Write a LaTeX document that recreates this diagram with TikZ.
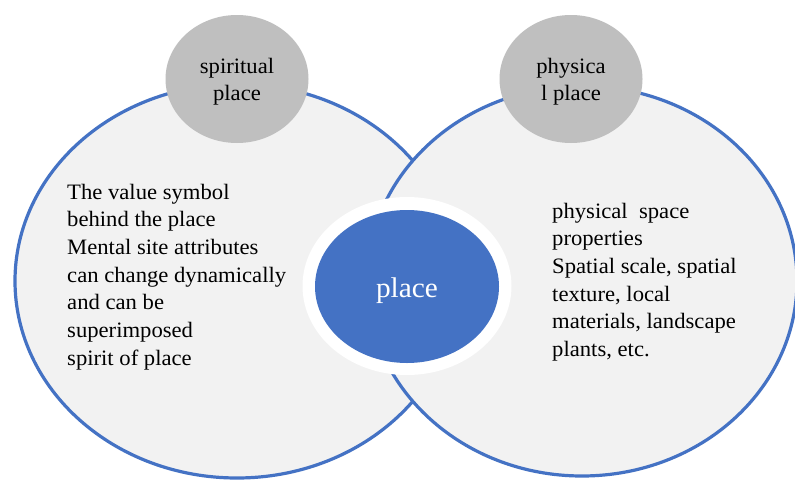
\documentclass[tikz,border=0pt]{standalone}
\usepackage{fontspec}
\setmainfont{Liberation Serif}[FakeStretch=1.03]
\usetikzlibrary{shapes.geometric}
\definecolor{ringblue}{HTML}{4472C4}
\definecolor{lightfill}{HTML}{F2F2F2}
\definecolor{graycirc}{HTML}{BFBFBF}
\begin{document}
\begin{tikzpicture}[x=1pt,y=-1pt,
  bigcirc/.style={ellipse, draw=ringblue, line width=3.2pt, fill=lightfill, inner sep=0pt},
  capcirc/.style={ellipse, fill=graycirc, inner sep=0pt, minimum width=143pt, minimum height=128pt},
  bodytext/.style={inner sep=0pt, anchor=base west, font=\fontsize{22}{27.7}\selectfont},
  captext/.style={inner sep=0pt, anchor=base, font=\fontsize{22}{27}\selectfont},
  ]
\useasboundingbox (0,0) rectangle (795,480);
\fill[white] (0,0) rectangle (795,480);
% big circles
\node[bigcirc, minimum width=444pt, minimum height=394pt] (L) at (237,281) {};
\node[bigcirc, minimum width=430pt, minimum height=390pt] (R) at (582,281) {};
% cap circles
\node[capcirc] (S) at (237,79) {};
\node[capcirc] (P) at (571,79) {};
\node[captext] (Stext) at (237,73) {\parbox[t]{140pt}{\centering spiritual\\place}};
\node[captext] (Ptext) at (571,73) {\parbox[t]{140pt}{\centering physica\\l place}};
% centre
\node[ellipse, fill=white, inner sep=0pt, minimum width=209pt, minimum height=178pt] (ring) at (407,286) {};
\node[ellipse, fill=ringblue, inner sep=0pt, minimum width=184pt, minimum height=153pt] (C) at (407,286.5) {};
\node[inner sep=0pt, anchor=base, text=white, font=\fontsize{28.5}{32}\selectfont] (Ctext) at (407,297) {place};
% body texts
\node[bodytext] (Ltext) at (67,199) {\parbox[t]{240pt}{\raggedright The value symbol\\
behind the place\\
Mental site attributes\\
can change dynamically\\
and can be\\
superimposed\\
spirit of place}};
\node[bodytext] (Rtext) at (552,218) {\parbox[t]{200pt}{\raggedright physical\ \ space\\
properties\\
Spatial scale, spatial\\
texture, local\\
materials, landscape\\
plants, etc.}};
\end{tikzpicture}
\end{document}
